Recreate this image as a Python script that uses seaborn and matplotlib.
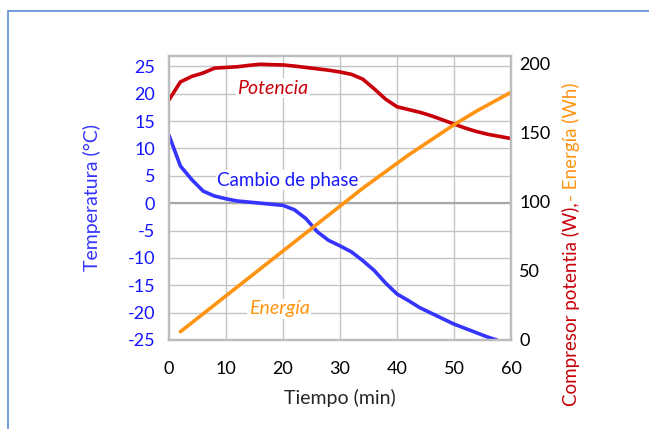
import matplotlib
matplotlib.use('Agg')
import matplotlib.pyplot as plt
import matplotlib.patches as mpatches
import seaborn as sns
import pandas as pd

# Temperature (left axis)
temp_time = [0, 2, 4, 6, 8, 10, 12, 14, 16, 18, 20, 22, 24, 26, 28, 30,
             32, 34, 36, 38, 40, 42, 44, 46, 48, 50, 52, 54, 56, 57.5]
temp_c = [12.4, 6.8, 4.3, 2.2, 1.3, 0.8, 0.4, 0.2, 0.0, -0.2, -0.4, -1.2, -2.8, -5.2, -6.8, -7.8,
          -8.9, -10.5, -12.3, -14.6, -16.6, -17.8, -19.1, -20.1, -21.1, -22.1, -22.9, -23.7, -24.5, -25.0]

# Compressor power (right axis)
power_time = [0, 2, 4, 6, 8, 10, 12, 14, 16, 18, 20, 22, 24, 26, 28, 30,
              32, 34, 36, 38, 40, 42, 44, 46, 48, 50, 52, 54, 56, 58, 60]
power_w = [174, 187, 191, 193.5, 197, 197.5, 198, 199, 199.8, 199.5, 199.3, 198.5, 197.5, 196.5, 195.5, 194.2,
           192.5, 189, 182, 174.5, 169, 167, 165, 162.5, 159.5, 156.5, 153.5, 151, 149, 147.5, 146]

# Energy (right axis)
energy_time = [2, 4, 6, 8, 10, 12, 14, 16, 18, 20, 22, 24, 26, 28, 30,
               32, 34, 36, 38, 40, 42, 44, 46, 48, 50, 52, 54, 56, 58, 60]
energy_wh = [6, 12.5, 19, 25.5, 32, 38.5, 45, 51.5, 58, 64.5, 71, 77.5, 84, 90.5, 97,
             103.5, 110, 116, 122, 128, 134, 139.5, 145, 150.5, 156, 161, 166, 170.5, 175, 179.5]

left_ticks = [25, 20, 15, 10, 5, 0, -5, -10, -15, -20, -25]
right_ticks = [0, 50, 100, 150, 200]
x_ticks = [0, 10, 20, 30, 40, 50, 60]

BLUE = '#3535FF'
RED = '#C8000A'
ORANGE = '#FF9412'
GRID = '#C4C4C4'

sns.set_style('white')
plt.rcParams['font.family'] = ['Lato', 'DejaVu Sans']
plt.rcParams['axes.unicode_minus'] = False

temp_df = pd.DataFrame({'t': temp_time, 'v': temp_c})
power_df = pd.DataFrame({'t': power_time, 'v': power_w})
energy_df = pd.DataFrame({'t': energy_time, 'v': energy_wh})

fig = plt.figure(figsize=(6.49, 4.29), dpi=100)
ax = fig.add_axes([0.2604, 0.2075, 0.527, 0.662])
ax2 = ax.twinx()

# grid
for x in x_ticks[1:-1]:
    ax.axvline(x, color=GRID, lw=1, zorder=0)
for y in left_ticks:
    ax.axhline(y, color=GRID, lw=1, zorder=0)
ax.axhline(0, color='#A8A8A8', lw=1.6, zorder=0)

sns.lineplot(data=temp_df, x='t', y='v', ax=ax, color=BLUE, lw=2.6)
sns.lineplot(data=power_df, x='t', y='v', ax=ax2, color=RED, lw=2.6)
sns.lineplot(data=energy_df, x='t', y='v', ax=ax2, color=ORANGE, lw=2.6)

ax.set_xlim(0, 60)
ax.set_ylim(-25, 26.9)
ax2.set_ylim(0, 205.8)

ax.set_xticks(x_ticks)
ax.set_yticks(left_ticks)
ax2.set_yticks(right_ticks)
ax.tick_params(axis='x', length=0, labelsize=13, pad=15, colors='black')
ax.tick_params(axis='y', length=0, labelsize=13, labelcolor='#1414FF', pad=10)
ax2.tick_params(axis='y', length=0, labelsize=13, labelcolor='black', pad=6)

for a in (ax, ax2):
    for s in a.spines.values():
        s.set_color('#BDBDBD')
        s.set_linewidth(1.6)

ax.set_xlabel('Tiempo (min)', fontsize=14, labelpad=9)
ax.set_ylabel('Temperatura (°C)', fontsize=14, color='#3535FF', labelpad=19)
ax2.set_ylabel('')

# in-plot labels
ax.text(18.2, 21.0, 'Potencia', color=RED, fontsize=14, style='italic',
        ha='center', va='center', bbox=dict(facecolor='white', edgecolor='none', pad=1))
ax.text(20.9, 4.2, 'Cambio de phase', color='#1A1AFF', fontsize=13.5,
        ha='center', va='center', bbox=dict(facecolor='white', edgecolor='none', pad=1))
ax.text(19.3, -19.3, 'Energía', color=ORANGE, fontsize=14, style='italic',
        ha='center', va='center', bbox=dict(facecolor='white', edgecolor='none', pad=1))

# two-colour right axis label
red_txt = fig.text(571 / 649, 1 - 406 / 429, 'Compresor potentia (W),', color=RED,
                   fontsize=13.5, rotation=90, ha='center', va='bottom')
fig.canvas.draw()
bb = red_txt.get_window_extent(fig.canvas.get_renderer())
top = bb.y1 / fig.bbox.height
fig.text(571 / 649, top + 0.004, '- Energía (Wh)', color=ORANGE,
         fontsize=13.5, rotation=90, ha='center', va='bottom')

# outer frame
fig.patches.append(mpatches.Rectangle((8 / 649, -0.2), 1.2, 1 - 11 / 429 + 0.2,
                                      transform=fig.transFigure, fill=False,
                                      edgecolor='#5B8ED6', lw=1.2))

fig.savefig('out.png', dpi=100)
